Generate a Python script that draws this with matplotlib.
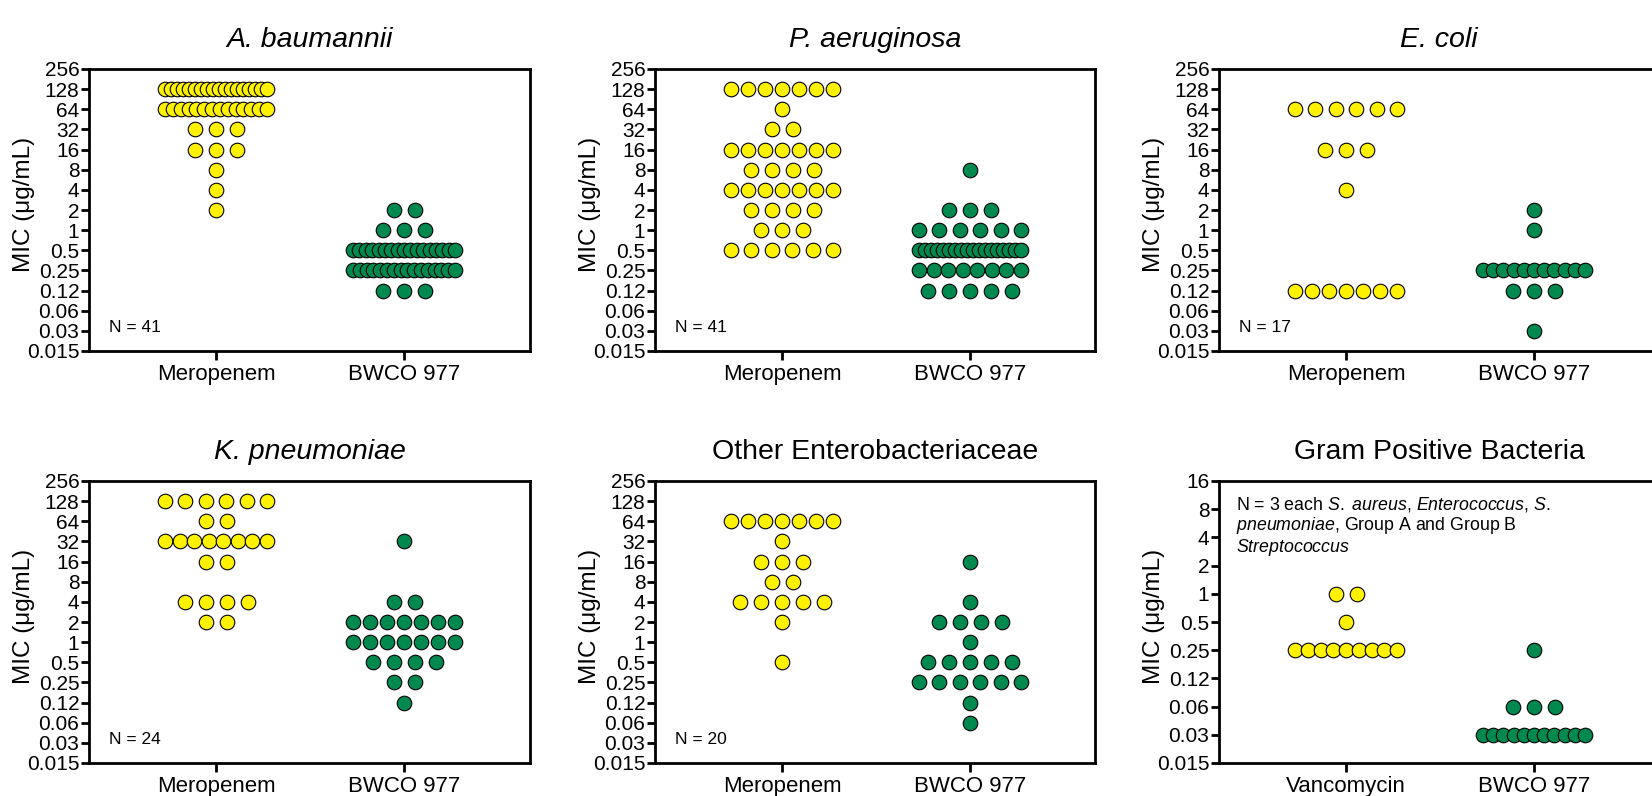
import matplotlib
matplotlib.use("Agg")
import matplotlib.pyplot as plt
from matplotlib.ticker import NullLocator

plt.rcParams["font.family"] = ["Liberation Sans", "DejaVu Sans"]
plt.rcParams["mathtext.fontset"] = "custom"
plt.rcParams["mathtext.rm"] = "Liberation Sans"
plt.rcParams["mathtext.it"] = "Liberation Sans:italic"
plt.rcParams["mathtext.bf"] = "Liberation Sans:bold"

# ---------------- data ----------------
ticks_gn = [256, 128, 64, 32, 16, 8, 4, 2, 1, 0.5, 0.25, 0.125, 0.0625, 0.03125, 0.015625]
labels_gn = ["256", "128", "64", "32", "16", "8", "4", "2", "1", "0.5", "0.25", "0.12", "0.06", "0.03", "0.015"]
ticks_gp = [16, 8, 4, 2, 1, 0.5, 0.25, 0.125, 0.0625, 0.03125, 0.015625]
labels_gp = ["16", "8", "4", "2", "1", "0.5", "0.25", "0.12", "0.06", "0.03", "0.015"]

drugs_gn = ["Meropenem", "BWCO 977"]
drugs_gp = ["Vancomycin", "BWCO 977"]

titles = ["A. baumannii", "P. aeruginosa", "E. coli",
          "K. pneumoniae", "Other Enterobacteriaceae", "Gram Positive Bacteria"]
title_italic = [True, True, True, True, False, False]
n_labels = ["N = 41", "N = 41", "N = 17", "N = 24", "N = 20", None]
gp_note = [r"N = 3 each $\mathit{S.\ aureus}$, $\mathit{Enterococcus}$, $\mathit{S.}$",
           r"$\mathit{pneumoniae}$, Group A and Group B",
           r"$\mathit{Streptococcus}$"]

# A. baumannii
ab_mero_mic = [128, 64, 32, 16, 8, 4, 2]
ab_mero_n = [18, 14, 3, 3, 1, 1, 1]
ab_bwco_mic = [2, 1, 0.5, 0.25, 0.125]
ab_bwco_n = [2, 3, 17, 16, 3]
# P. aeruginosa
pa_mero_mic = [128, 64, 32, 16, 8, 4, 2, 1, 0.5]
pa_mero_n = [7, 1, 2, 7, 4, 7, 4, 3, 6]
pa_bwco_mic = [8, 2, 1, 0.5, 0.25, 0.125]
pa_bwco_n = [1, 3, 6, 18, 8, 5]
# E. coli
ec_mero_mic = [64, 16, 4, 0.125]
ec_mero_n = [6, 3, 1, 7]
ec_bwco_mic = [2, 1, 0.25, 0.125, 0.03125]
ec_bwco_n = [1, 1, 11, 3, 1]
# K. pneumoniae
kp_mero_mic = [128, 64, 32, 16, 4, 2]
kp_mero_n = [6, 2, 8, 2, 4, 2]
kp_bwco_mic = [32, 4, 2, 1, 0.5, 0.25, 0.125]
kp_bwco_n = [1, 2, 7, 7, 4, 2, 1]
# Other Enterobacteriaceae
oe_mero_mic = [64, 32, 16, 8, 4, 2, 0.5]
oe_mero_n = [7, 1, 3, 2, 5, 1, 1]
oe_bwco_mic = [16, 4, 2, 1, 0.5, 0.25, 0.125, 0.0625]
oe_bwco_n = [1, 1, 4, 1, 5, 6, 1, 1]
# Gram positive
gp_vanc_mic = [1, 0.5, 0.25]
gp_vanc_n = [2, 1, 9]
gp_bwco_mic = [0.25, 0.0625, 0.03125]
gp_bwco_n = [1, 3, 11]

panels = [
    (ab_mero_mic, ab_mero_n, ab_bwco_mic, ab_bwco_n, drugs_gn, ticks_gn, labels_gn),
    (pa_mero_mic, pa_mero_n, pa_bwco_mic, pa_bwco_n, drugs_gn, ticks_gn, labels_gn),
    (ec_mero_mic, ec_mero_n, ec_bwco_mic, ec_bwco_n, drugs_gn, ticks_gn, labels_gn),
    (kp_mero_mic, kp_mero_n, kp_bwco_mic, kp_bwco_n, drugs_gn, ticks_gn, labels_gn),
    (oe_mero_mic, oe_mero_n, oe_bwco_mic, oe_bwco_n, drugs_gn, ticks_gn, labels_gn),
    (gp_vanc_mic, gp_vanc_n, gp_bwco_mic, gp_bwco_n, drugs_gp, ticks_gp, labels_gp),
]

# ---------------- style ----------------
YELLOW = "#FFF200"
GREEN = "#00894F"
W, H = 1652, 796
col_left = [89, 655, 1219]
col_width = [441, 440, 440]
row_top = [69, 481]
ax_h = 282
px_per_unit = 188.0
left_gap = 127.0
pref_step = 21.0 / px_per_unit
max_span = 102.0 / px_per_unit


def row_offsets(n):
    if n <= 1:
        return [0.0]
    step = min(pref_step, max_span / (n - 1))
    return [(i - (n - 1) / 2.0) * step for i in range(n)]


def swarm(center, mics, counts):
    xs, ys = [], []
    for m, c in zip(mics, counts):
        for off in row_offsets(c):
            xs.append(center + off)
            ys.append(m)
    return xs, ys


fig = plt.figure(figsize=(W / 100, H / 100), dpi=100)

for i, (m1, n1, m2, n2, drugs, ticks, labels) in enumerate(panels):
    r, c = divmod(i, 3)
    l, t, w = col_left[c], row_top[r], col_width[c]
    ax = fig.add_axes([l / W, 1 - (t + ax_h) / H, w / W, ax_h / H])
    ax.set_yscale("log", base=2)
    ax.set_ylim(ticks[-1], ticks[0])
    ax.set_yticks(ticks)
    ax.set_yticklabels(labels)
    ax.yaxis.set_minor_locator(NullLocator())
    ax.set_xlim(-left_gap / px_per_unit, (w - left_gap) / px_per_unit)
    ax.set_xticks([0, 1])
    ax.set_xticklabels(drugs)

    for center, mics, cnts, col in ((0, m1, n1, YELLOW), (1, m2, n2, GREEN)):
        xs, ys = swarm(center, mics, cnts)
        ax.scatter(xs, ys, s=110, c=col, edgecolors="black", linewidths=0.8,
                   zorder=3, clip_on=False)

    for sp in ax.spines.values():
        sp.set_linewidth(2.0)
    ax.tick_params(axis="y", direction="out", length=6, width=2, pad=1, labelsize=15)
    ax.tick_params(axis="x", direction="out", length=6.5, width=2, pad=3, labelsize=16)

    ax.set_ylabel("MIC (\u03bcg/mL)", fontsize=17.5)
    ax.yaxis.set_label_coords(-54 / w, 0.52)

    ax.text(0.5, 1 + 22 / ax_h, titles[i], transform=ax.transAxes,
            ha="center", va="baseline", fontsize=20.5,
            fontstyle="italic" if title_italic[i] else "normal")

    if n_labels[i] is not None:
        ax.text(20 / w, 23 / ax_h, n_labels[i], transform=ax.transAxes,
                ha="left", va="center", fontsize=12.5)
    else:
        for k, line in enumerate(gp_note):
            ax.text(17 / w, 1 - (24 + 21 * k) / ax_h, line, transform=ax.transAxes,
                    ha="left", va="center", fontsize=12.8)

fig.savefig("out.png", dpi=100)
